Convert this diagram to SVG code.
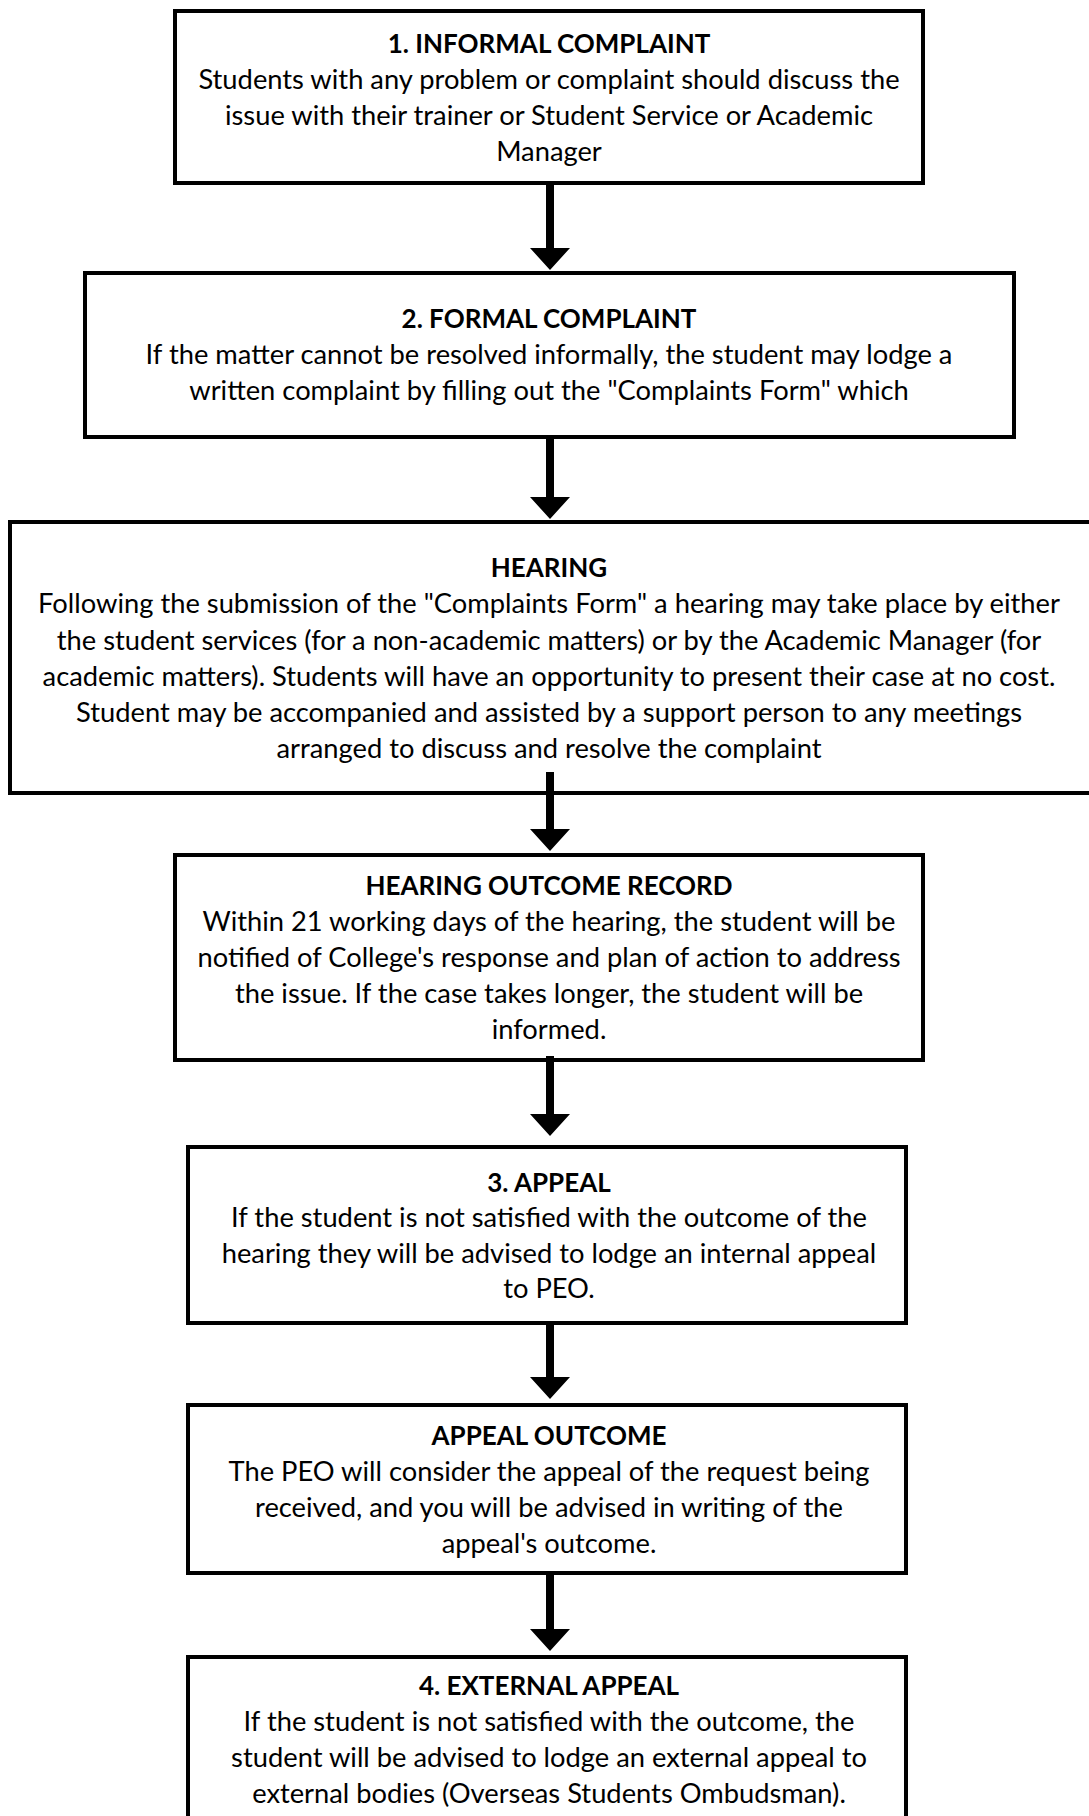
<svg xmlns="http://www.w3.org/2000/svg" width="1089" height="1816" viewBox="0 0 1089 1816">
<style>
.box{fill:#fff;stroke:#000;stroke-width:4}
.t{font-family:Lato,"Liberation Sans",sans-serif;font-size:27.3px;fill:#000;text-anchor:middle}
.h{font-weight:bold;font-size:26px}
.arr{fill:#000}
</style>
<rect width="1089" height="1816" fill="#fff"/>
<g id="n1">
<rect class="box" x="175" y="11" width="748" height="172"/>
<text class="t h" x="549" y="53">1. INFORMAL COMPLAINT</text>
<text class="t" x="549" y="89">Students with any problem or complaint should discuss the</text>
<text class="t" x="549" y="125">issue with their trainer or Student Service or Academic</text>
<text class="t" x="549" y="161">Manager</text>
</g>
<g id="n2">
<rect class="box" x="85" y="273" width="929" height="164"/>
<text class="t h" x="549" y="328">2. FORMAL COMPLAINT</text>
<text class="t" x="549" y="364">If the matter cannot be resolved informally, the student may lodge a</text>
<text class="t" x="549" y="400">written complaint by filling out the "Complaints Form" which</text>
</g>
<g id="n3">
<rect class="box" x="10" y="522" width="1100" height="271"/>
<text class="t h" x="549" y="577">HEARING</text>
<text class="t" x="549" y="613">Following the submission of the "Complaints Form" a hearing may take place by either</text>
<text class="t" x="549" y="650">the student services (for a non-academic matters) or by the Academic Manager (for</text>
<text class="t" x="549" y="686">academic matters). Students will have an opportunity to present their case at no cost.</text>
<text class="t" x="549" y="722">Student may be accompanied and assisted by a support person to any meetings</text>
<text class="t" x="549" y="758">arranged to discuss and resolve the complaint</text>
</g>
<g id="n4">
<rect class="box" x="175" y="855" width="748" height="205"/>
<text class="t h" x="549" y="895">HEARING OUTCOME RECORD</text>
<text class="t" x="549" y="931">Within 21 working days of the hearing, the student will be</text>
<text class="t" x="549" y="967">notified of College's response and plan of action to address</text>
<text class="t" x="549" y="1003">the issue. If the case takes longer, the student will be</text>
<text class="t" x="549" y="1039">informed.</text>
</g>
<g id="n5">
<rect class="box" x="188" y="1147" width="718" height="176"/>
<text class="t h" x="549" y="1192">3. APPEAL</text>
<text class="t" x="549" y="1227">If the student is not satisfied with the outcome of the</text>
<text class="t" x="549" y="1263">hearing they will be advised to lodge an internal appeal</text>
<text class="t" x="549" y="1298">to PEO.</text>
</g>
<g id="n6">
<rect class="box" x="188" y="1405" width="718" height="168"/>
<text class="t h" x="549" y="1445">APPEAL OUTCOME</text>
<text class="t" x="549" y="1481">The PEO will consider the appeal of the request being</text>
<text class="t" x="549" y="1517">received, and you will be advised in writing of the</text>
<text class="t" x="549" y="1553">appeal's outcome.</text>
</g>
<g id="n7">
<rect class="box" x="188" y="1657" width="718" height="180"/>
<text class="t h" x="549" y="1695">4. EXTERNAL APPEAL</text>
<text class="t" x="549" y="1731">If the student is not satisfied with the outcome, the</text>
<text class="t" x="549" y="1767">student will be advised to lodge an external appeal to</text>
<text class="t" x="549" y="1803">external bodies (Overseas Students Ombudsman).</text>
</g>
<g id="connectors" class="arr">
<path d="M546,183 H554 V248 H570 L550,270 L530,248 H546 Z"/>
<path d="M546,437 H554 V497 H570 L550,519 L530,497 H546 Z"/>
<path d="M546,772 H554 V829 H570 L550,851 L530,829 H546 Z"/>
<path d="M546,1056 H554 V1114 H570 L550,1136 L530,1114 H546 Z"/>
<path d="M546,1323 H554 V1377 H570 L550,1399 L530,1377 H546 Z"/>
<path d="M546,1573 H554 V1629 H570 L550,1651 L530,1629 H546 Z"/>
</g>
</svg>
